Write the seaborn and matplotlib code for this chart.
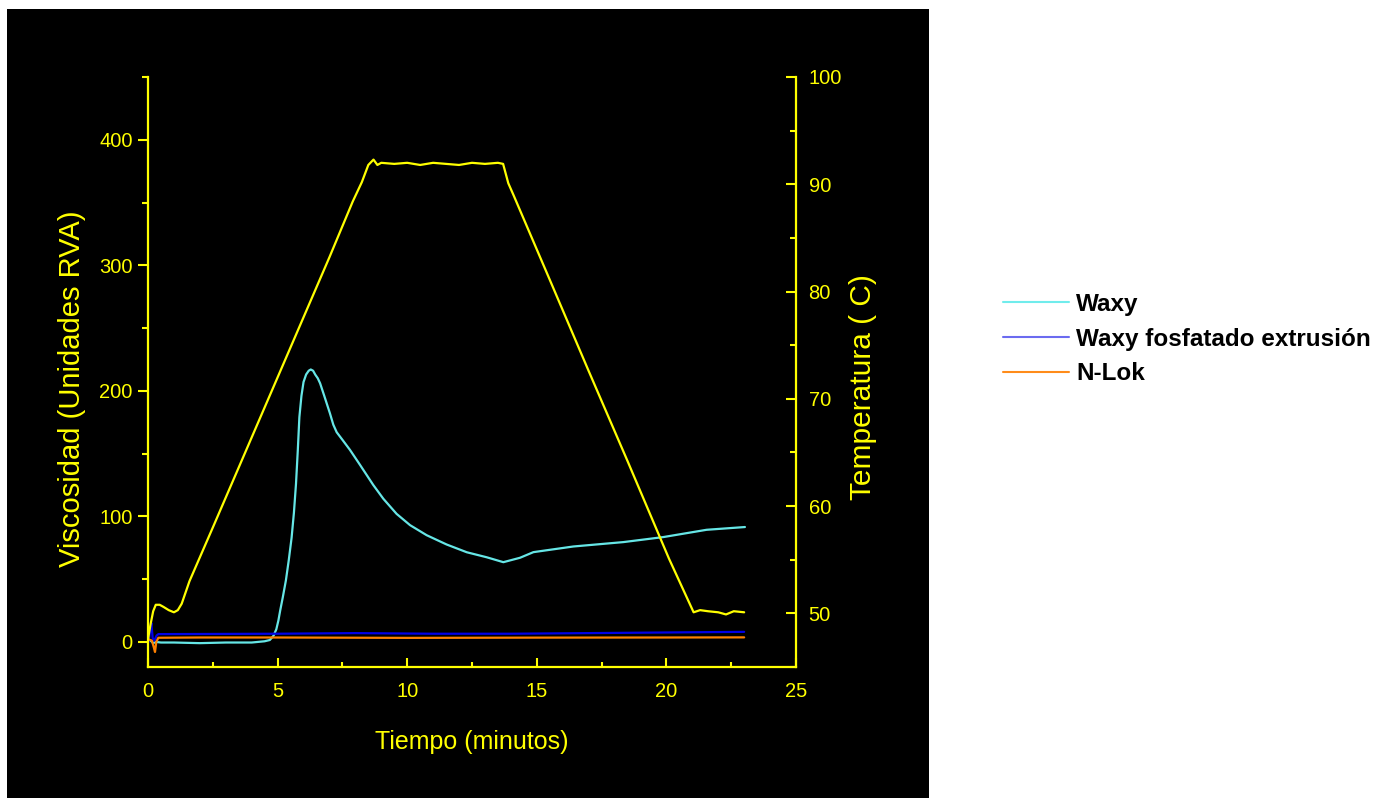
import numpy as np
import pandas as pd
import matplotlib
matplotlib.use("Agg")
import matplotlib.pyplot as plt
import seaborn as sns
from matplotlib.lines import Line2D
from matplotlib.patches import Rectangle
from matplotlib.ticker import MultipleLocator, FixedLocator

# ---------------- data ----------------
series_names = ["Waxy", "Waxy fosfatado extrusión", "N-Lok"]

waxy_t = [0.1, 0.2, 0.3, 0.5, 1.0, 2.0, 3.0, 4.0, 4.5, 4.7, 4.84, 4.95, 5.03, 5.1,
          5.2, 5.32, 5.43, 5.54, 5.63, 5.71, 5.78, 5.84, 5.92, 6.0, 6.1, 6.2, 6.28,
          6.37, 6.45, 6.55, 6.64, 6.8, 7.02, 7.15, 7.28, 7.5, 7.79, 8.18,
          8.69, 9.08, 9.59, 10.11, 10.75, 11.52, 12.3, 13.07, 13.71, 14.35, 14.87,
          16.41, 18.34, 19.88, 21.55, 23.03]
waxy_v = [1, -1, 0, -0.5, -0.5, -1, -0.5, -0.5, 0.5, 1.5, 4.8, 10, 17, 25,
          35.5, 49, 65, 83, 103, 126, 153, 179, 196, 207, 213, 216, 217,
          216, 213, 210, 206, 196, 182, 173, 167, 161, 153, 141,
          125, 114, 102, 93, 85, 77.6, 71.4, 67.4, 63.5, 67, 71.5,
          76, 79.5, 83.5, 89.3, 91.5]

fosf_t = [0.02, 0.08, 0.13, 0.18, 0.25, 0.33, 0.4, 2, 5, 8, 11, 14, 17, 20, 23]
fosf_v = [0, 8, 15, 3, 1, 5, 6.2, 6.3, 6.5, 7, 6.5, 6.5, 7, 7.5, 8]

nlok_t = [0.02, 0.15, 0.22, 0.27, 0.32, 0.4, 2, 5, 10, 15, 20, 23]
nlok_v = [2, 1, -4, -8, 0, 3.3, 3.5, 3.5, 3.2, 3.4, 3.5, 3.6]

temp_t = [0.0, 0.1, 0.2, 0.3, 0.45, 0.6, 0.8, 1.0, 1.15, 1.3, 1.6, 2.5, 4.0, 5.5,
          7.0, 7.9, 8.25, 8.5, 8.7, 8.85, 9.0, 9.5, 10.0, 10.5, 11.0, 11.5, 12.0,
          12.5, 13.0, 13.5, 13.7, 13.9, 14.1, 15.5, 17.0, 18.5, 20.1, 21.05, 21.3,
          21.6, 22.0, 22.3, 22.6, 23.0]
temp_v = [47.6, 49.0, 50.2, 50.8, 50.8, 50.6, 50.3, 50.1, 50.3, 50.9, 53.0, 58.0,
          66.4, 74.8, 83.2, 88.4, 90.2, 91.8, 92.3, 91.8, 92.0, 91.9, 92.0, 91.8,
          92.0, 91.9, 91.8, 92.0, 91.9, 92.0, 91.9, 90.1, 89.0, 81.1, 72.6, 64.2,
          55.1, 50.1, 50.3, 50.2, 50.1, 49.9, 50.2, 50.1]

x_ticks = [0, 5, 10, 15, 20, 25]
visc_ticks = [0, 100, 200, 300, 400]
temp_ticks = [50, 60, 70, 80, 90, 100]

# ---------------- style ----------------
sns.set_theme(style="ticks")
plt.rcParams['font.family'] = ['Liberation Sans', 'DejaVu Sans']

YEL = '#FFFF00'
line_colors = {"Waxy": '#66E6E6', "Waxy fosfatado extrusión": '#0000E6', "N-Lok": '#FF8000'}
legend_colors = {"Waxy": '#70ECEC', "Waxy fosfatado extrusión": '#6B6BF0', "N-Lok": '#FF8C1A'}

df = pd.concat([
    pd.DataFrame({"t": waxy_t, "v": waxy_v, "serie": series_names[0]}),
    pd.DataFrame({"t": fosf_t, "v": fosf_v, "serie": series_names[1]}),
    pd.DataFrame({"t": nlok_t, "v": nlok_v, "serie": series_names[2]}),
], ignore_index=True)
df_temp = pd.DataFrame({"t": temp_t, "temp": temp_v})

W, H = 1384, 798
fig = plt.figure(figsize=(W / 100, H / 100), dpi=100, facecolor='white')
fig.add_artist(Rectangle((7 / W, 0), 922 / W, 789 / H, transform=fig.transFigure,
                         facecolor='black', edgecolor='none', zorder=-10))

ax = fig.add_axes([148 / W, 1 - 667 / H, 648 / W, 590 / H])
ax.set_facecolor('black')

sns.lineplot(data=df, x="t", y="v", hue="serie", hue_order=series_names,
             palette=line_colors, estimator=None, sort=False, linewidth=1.6,
             legend=False, ax=ax)

ax2 = ax.twinx()
sns.lineplot(data=df_temp, x="t", y="temp", color=YEL, estimator=None, sort=False,
             linewidth=1.6, ax=ax2)

ax.set_xlim(0, 25)
ax.set_ylim(-20, 450)
ax2.set_ylim(45, 100)

# spines
for s in ['top', 'right']:
    ax.spines[s].set_visible(False)
for s in ['left', 'bottom']:
    ax.spines[s].set_color(YEL)
    ax.spines[s].set_linewidth(1.6)
for s in ['top', 'left', 'bottom']:
    ax2.spines[s].set_visible(False)
ax2.spines['right'].set_color(YEL)
ax2.spines['right'].set_linewidth(1.6)

# ticks
ax.xaxis.set_major_locator(FixedLocator(x_ticks))
ax.xaxis.set_minor_locator(MultipleLocator(2.5))
ax.yaxis.set_major_locator(FixedLocator(visc_ticks))
ax.yaxis.set_minor_locator(MultipleLocator(50))
ax2.yaxis.set_major_locator(FixedLocator(temp_ticks))
ax2.yaxis.set_minor_locator(MultipleLocator(5))

ax.tick_params(axis='x', which='both', direction='in', color=YEL, width=1.5,
               labelcolor=YEL, labelsize=14.5, pad=10.5, top=False)
ax.tick_params(axis='x', which='major', length=6.5)
ax.tick_params(axis='x', which='minor', length=3.6)
ax.tick_params(axis='y', which='both', direction='out', color=YEL, width=1.5,
               labelcolor=YEL, labelsize=14.5, pad=4, right=False)
ax.tick_params(axis='y', which='major', length=7)
ax.tick_params(axis='y', which='minor', length=4.5)
ax2.tick_params(axis='y', which='both', direction='in', color=YEL, width=1.5,
                labelcolor=YEL, labelsize=14.5, pad=9, left=False)
ax2.tick_params(axis='y', which='major', length=7)
ax2.tick_params(axis='y', which='minor', length=4)

ax.set_xlabel("Tiempo (minutos)", color=YEL, fontsize=18)
ax.set_ylabel("Viscosidad (Unidades RVA)", color=YEL, fontsize=21)
ax2.set_ylabel("Temperatura ( C)", color=YEL, fontsize=21.5)
ax.xaxis.set_label_coords(0.5, -0.107)
ax.yaxis.set_label_coords(-0.095, 0.471)
ax2.yaxis.set_label_coords(1.082, 0.474)

handles = [Line2D([0], [0], color=legend_colors[n], lw=1.5) for n in series_names]
leg = ax.legend(handles, series_names, loc='center left',
                bbox_to_anchor=(1003 / W, 1 - 339 / H), bbox_transform=fig.transFigure,
                frameon=False, prop={'weight': 'bold', 'size': 17.5},
                handlelength=2.7, handletextpad=0.3, labelspacing=0.48,
                borderpad=0, borderaxespad=0)
for txt in leg.get_texts():
    txt.set_color('black')

fig.savefig("out.png", dpi=100, facecolor='white')
